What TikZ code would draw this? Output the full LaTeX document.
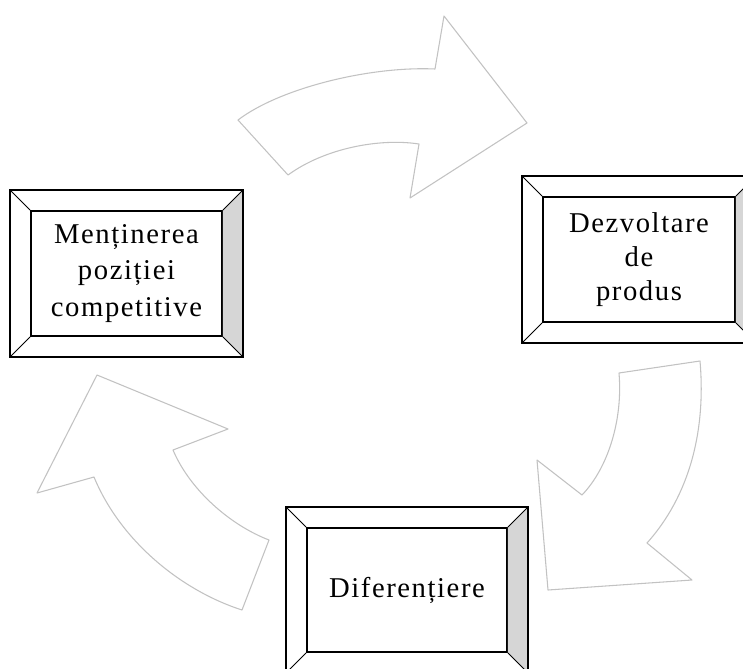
\documentclass[tikz,border=0pt]{standalone}
\usepackage{fontspec}
\setmainfont{Liberation Serif}[LetterSpace=5.5]
\usepackage{tikz}
\definecolor{bevelgray}{gray}{0.84}
\definecolor{arrowgray}{gray}{0.76}
\tikzset{
	boxstyle/.style={rectangle,draw=black,line width=1.3pt,fill=white,align=center,inner sep=0pt,font=\fontsize{21.5}{26.5}\selectfont},
	framestyle/.style={draw=black,line width=1.6pt},
	cornerstyle/.style={draw=black,line width=0.7pt},
	arrowstyle/.style={draw=arrowgray,line width=0.8pt,line join=round}
}
\newcommand{\bevelframe}[1]{%
	\fill[bevelgray] (#1.north east) -- ([shift={(20,-20)}]#1.north east) -- ([shift={(20,20)}]#1.south east) -- (#1.south east) -- cycle;
	\draw[framestyle] ([shift={(-20,-20)}]#1.north west) rectangle ([shift={(20,20)}]#1.south east);
	\draw[cornerstyle] (#1.north west) -- ([shift={(-20,-20)}]#1.north west);
	\draw[cornerstyle] (#1.north east) -- ([shift={(20,-20)}]#1.north east);
	\draw[cornerstyle] (#1.south east) -- ([shift={(20,20)}]#1.south east);
	\draw[cornerstyle] (#1.south west) -- ([shift={(-20,20)}]#1.south west);
}
\begin{document}
\begin{tikzpicture}[x=0.75pt,y=-0.75pt]
		\clip (0,0) rectangle (743,668);
		% block arrows
		\draw[arrowstyle] (238,120) .. controls (280,88) and (370,66) .. (435,69) -- (444,16) -- (527,123) -- (410,198) -- (419,144) .. controls (380,138) and (325,148) .. (288,175) -- cycle;
		\draw[arrowstyle] (619,373) -- (700,361) .. controls (706,430) and (690,495) .. (647,543) -- (692,580) -- (548,590) -- (537,460) -- (582,495) .. controls (608,468) and (623,420) .. (619,373) -- cycle;
		\draw[arrowstyle] (97,375) -- (228,429) -- (173,450) .. controls (190,490) and (230,525) .. (269,540) -- (242,610) .. controls (180,590) and (120,540) .. (94,477) -- (37,493) -- cycle;
		% boxes
		\node[boxstyle,font=\fontsize{21.5}{27.4}\selectfont,minimum width=191*0.75pt,minimum height=125*0.75pt] (ment) at (126.5,273.5) {Menținerea\\poziției\\competitive};
		\node[boxstyle,font=\fontsize{21.5}{25.5}\selectfont,minimum width=192*0.75pt,minimum height=125*0.75pt] (dezv) at (639,259.5) {Dezvoltare\\de\\produs};
		\node[boxstyle,minimum width=200*0.75pt,minimum height=124*0.75pt] (dif) at (407,590) {Diferențiere};
		\bevelframe{ment}
		\bevelframe{dezv}
		\bevelframe{dif}
\end{tikzpicture}
\end{document}
